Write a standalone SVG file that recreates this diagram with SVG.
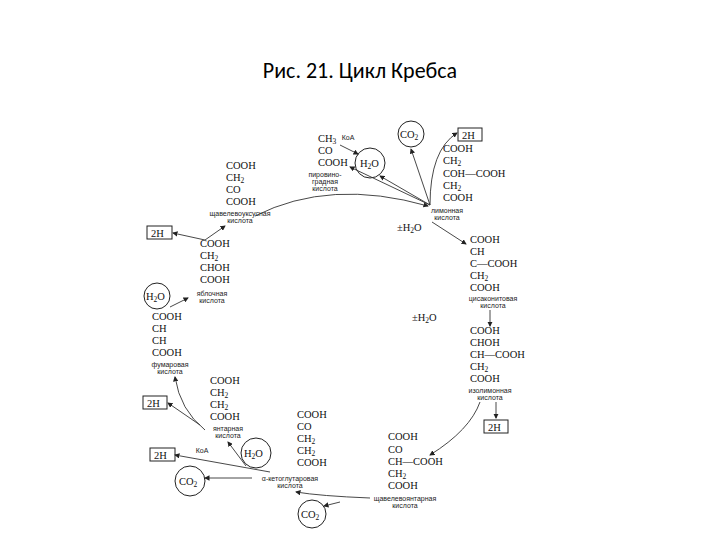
<svg xmlns="http://www.w3.org/2000/svg" width="720" height="540" viewBox="0 0 720 540">
<style>
.f{font-family:"Liberation Serif",serif;font-size:10.5px;fill:#111}
.l{font-family:"Liberation Sans",sans-serif;font-size:7px;fill:#222;text-anchor:middle}
.t{font-family:Calibri,"Liberation Sans",sans-serif;font-size:22px;fill:#000;text-anchor:middle}
.c{fill:none;stroke:#222;stroke-width:1}
.b{fill:#fff;stroke:#222;stroke-width:1}
.a{fill:none;stroke:#333;stroke-width:0.9;marker-end:url(#m)}
.s{font-size:7.5px}
</style>
<defs><marker id="m" markerWidth="6" markerHeight="6" refX="5" refY="3" orient="auto"><path d="M0,0 L6,3 L0,6 Z" fill="#222"/></marker></defs>
<rect width="720" height="540" fill="#fff"/>
<text class="t" x="360" y="78">Рис. 21. Цикл Кребса</text>
<g id="pyruvate"><text class="f" x="318" y="142">CH<tspan class="s" dy="2">3</tspan></text><text class="f" x="318" y="154">CO</text><text class="f" x="318" y="166">COOH</text><text class="l" x="325" y="177">пировино-</text><text class="l" x="325" y="184">градная</text><text class="l" x="325" y="191">кислота</text></g>
<g id="citrate"><text class="f" x="443" y="152">COOH</text><text class="f" x="443" y="164">CH<tspan class="s" dy="2">2</tspan></text><text class="f" x="443" y="177">COH—COOH</text><text class="f" x="443" y="189">CH<tspan class="s" dy="2">2</tspan></text><text class="f" x="443" y="201">COOH</text><text class="l" x="447" y="213">лимонная</text><text class="l" x="447" y="220">кислота</text></g>
<g id="cisaconitate"><text class="f" x="470" y="243">COOH</text><text class="f" x="470" y="255">CH</text><text class="f" x="470" y="267">C—COOH</text><text class="f" x="470" y="279">CH<tspan class="s" dy="2">2</tspan></text><text class="f" x="470" y="291">COOH</text><text class="l" x="493" y="301">цисаконитовая</text><text class="l" x="493" y="308">кислота</text></g>
<g id="isocitrate"><text class="f" x="470" y="334">COOH</text><text class="f" x="470" y="346">CHOH</text><text class="f" x="470" y="358">CH—COOH</text><text class="f" x="470" y="370">CH<tspan class="s" dy="2">2</tspan></text><text class="f" x="470" y="382">COOH</text><text class="l" x="490" y="393">изолимонная</text><text class="l" x="490" y="400">кислота</text></g>
<g id="oxalosuccinate"><text class="f" x="388" y="440">COOH</text><text class="f" x="388" y="453">CO</text><text class="f" x="388" y="465">CH—COOH</text><text class="f" x="388" y="477">CH<tspan class="s" dy="2">2</tspan></text><text class="f" x="388" y="489">COOH</text><text class="l" x="405" y="501">щавелевоянтарная</text><text class="l" x="405" y="508">кислота</text></g>
<g id="ketoglutarate"><text class="f" x="297" y="418">COOH</text><text class="f" x="297" y="430">CO</text><text class="f" x="297" y="442">CH<tspan class="s" dy="2">2</tspan></text><text class="f" x="297" y="454">CH<tspan class="s" dy="2">2</tspan></text><text class="f" x="297" y="466">COOH</text><text class="l" x="290" y="481">α-кетоглутаровая</text><text class="l" x="290" y="488">кислота</text></g>
<g id="succinate"><text class="f" x="210" y="384">COOH</text><text class="f" x="210" y="396">CH<tspan class="s" dy="2">2</tspan></text><text class="f" x="210" y="408">CH<tspan class="s" dy="2">2</tspan></text><text class="f" x="210" y="420">COOH</text><text class="l" x="228" y="431">янтарная</text><text class="l" x="228" y="438">кислота</text></g>
<g id="fumarate"><text class="f" x="152" y="320">COOH</text><text class="f" x="152" y="332">CH</text><text class="f" x="152" y="344">CH</text><text class="f" x="152" y="356">COOH</text><text class="l" x="170" y="367">фумаровая</text><text class="l" x="170" y="374">кислота</text></g>
<g id="malate"><text class="f" x="200" y="247">COOH</text><text class="f" x="200" y="259">CH<tspan class="s" dy="2">2</tspan></text><text class="f" x="200" y="271">CHOH</text><text class="f" x="200" y="283">COOH</text><text class="l" x="212" y="296">яблочная</text><text class="l" x="212" y="303">кислота</text></g>
<g id="oxaloacetate"><text class="f" x="226" y="169">COOH</text><text class="f" x="226" y="181">CH<tspan class="s" dy="2">2</tspan></text><text class="f" x="226" y="193">CO</text><text class="f" x="226" y="205">COOH</text><text class="l" x="240" y="216">щавелевоуксусная</text><text class="l" x="240" y="223">кислота</text></g>
<g id="cofactors">
<circle class="c" cx="370" cy="163" r="15"/><text class="f" x="360" y="167">H<tspan class="s" dy="2">2</tspan><tspan dy="-2">O</tspan></text>
<circle class="c" cx="411" cy="134" r="13"/><text class="f" x="400" y="138">CO<tspan class="s" dy="2">2</tspan></text>
<rect class="b" x="458" y="128" width="24" height="13"/><text class="f" x="462" y="139">2H</text>
<text class="l" x="348" y="140">КоА</text>
<text class="f" x="397" y="231">±H<tspan class="s" dy="2">2</tspan><tspan dy="-2">O</tspan></text>
<text class="f" x="412" y="321">±H<tspan class="s" dy="2">2</tspan><tspan dy="-2">O</tspan></text>
<rect class="b" x="484" y="420" width="24" height="13"/><text class="f" x="488" y="431">2H</text>
<circle class="c" cx="312" cy="514" r="14"/><text class="f" x="301" y="518">CO<tspan class="s" dy="2">2</tspan></text>
<circle class="c" cx="256" cy="453" r="15"/><text class="f" x="244" y="457">H<tspan class="s" dy="2">2</tspan><tspan dy="-2">O</tspan></text>
<rect class="b" x="150" y="448" width="25" height="13"/><text class="f" x="154" y="459">2H</text>
<text class="l" x="202" y="453">КоА</text>
<circle class="c" cx="190" cy="481" r="15"/><text class="f" x="179" y="485">CO<tspan class="s" dy="2">2</tspan></text>
<rect class="b" x="143" y="396" width="24" height="13"/><text class="f" x="147" y="407">2H</text>
<circle class="c" cx="157" cy="296" r="13"/><text class="f" x="146" y="300">H<tspan class="s" dy="2">2</tspan><tspan dy="-2">O</tspan></text>
<rect class="b" x="147" y="226" width="25" height="13"/><text class="f" x="151" y="237">2H</text>
</g>
<g id="connectors">
<path class="a" d="M255,216 Q330,178 428,206"/>
<path class="a" d="M430,205 L350,167"/>
<path class="a" d="M340,145 L358,154"/>
<path class="a" d="M430,205 L380,176"/>
<path class="a" d="M430,205 L411,149"/>
<path class="a" d="M430,205 Q430,150 457,133"/>
<path class="a" d="M432,222 L466,244"/>
<path class="a" d="M490,310 L490,326"/>
<path class="a" d="M480,402 Q470,430 430,455"/>
<path class="a" d="M496,402 L496,418"/>
<path class="a" d="M370,498 Q320,496 296,492"/>
<path class="a" d="M340,502 L324,506"/>
<path class="a" d="M270,472 L175,455"/>
<path class="a" d="M246,466 L228,442"/>
<path class="a" d="M252,478 L205,478"/>
<path class="a" d="M205,430 Q180,410 175,377"/>
<path class="a" d="M200,425 L168,403"/>
<path class="a" d="M170,307 L188,298"/>
<path class="a" d="M205,240 L173,233"/>
<path class="a" d="M205,240 L225,226"/>
</g>
</svg>
